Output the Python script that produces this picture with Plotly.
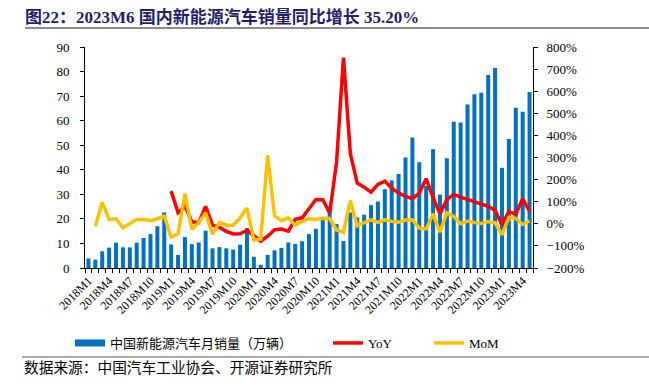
import plotly.graph_objects as go

categories = [
    "2018M1", "2018M2", "2018M3", "2018M4", "2018M5", "2018M6", "2018M7", "2018M8", "2018M9", "2018M10", "2018M11", "2018M12",
    "2019M1", "2019M2", "2019M3", "2019M4", "2019M5", "2019M6", "2019M7", "2019M8", "2019M9", "2019M10", "2019M11", "2019M12",
    "2020M1", "2020M2", "2020M3", "2020M4", "2020M5", "2020M6", "2020M7", "2020M8", "2020M9", "2020M10", "2020M11", "2020M12",
    "2021M1", "2021M2", "2021M3", "2021M4", "2021M5", "2021M6", "2021M7", "2021M8", "2021M9", "2021M10", "2021M11", "2021M12",
    "2022M1", "2022M2", "2022M3", "2022M4", "2022M5", "2022M6", "2022M7", "2022M8", "2022M9", "2022M10", "2022M11", "2022M12",
    "2023M1", "2023M2", "2023M3", "2023M4", "2023M5",
]

sales = [
    3.9, 3.4, 6.8, 8.3, 10.3, 8.4, 8.4, 10.3, 12.2, 13.8, 17.0, 22.6,
    9.6, 5.3, 12.6, 9.7, 10.4, 15.2, 8.0, 8.5, 8.0, 7.5, 9.5, 16.3,
    4.6, 1.3, 5.3, 7.2, 8.2, 10.4, 9.8, 10.9, 13.8, 16.0, 20.0, 24.8,
    17.9, 11.0, 22.6, 20.6, 21.7, 25.6, 27.1, 32.1, 35.7, 38.3, 45.0, 53.1,
    43.1, 33.4, 48.4, 29.9, 44.7, 59.6, 59.3, 66.6, 70.8, 71.4, 78.6, 81.4,
    40.8, 52.5, 65.3, 63.6, 71.7,
]

# YoY (%) from 2019M1
yoy_categories = categories[12:]
yoy = [
    148, 51, 80, 9, 5, 79, -6, -16, -34, -46, -45, -30,
    -53, -79, -56, -27, -24, -33, 20, 27, 68, 110, 109, 49,
    279, 752, 317, 184, 166, 143, 178, 193, 161, 139, 124, 114,
    139, 204, 118, 45, 109, 133, 121, 110, 101, 91, 79, 60,
    -5, 56, 43, 113, 57,
]

# MoM (%) from 2018M2
mom_categories = categories[1:]
mom = [
    -11, 96, 20, 23, -18, 0, 20, 20, 14, 23, 34,
    -60, -45, 136, -25, 6, 50, -47, 6, -6, -6, 27, 71,
    -73, -70, 310, 36, 14, 27, -6, 11, 23, 20, 25, 24,
    -28, -39, 105, -9, 5, 18, 6, 18, 11, 7, 17, 18,
    -19, -23, 45, -38, 49, 33, 0, 12, 6, 1, 10, 4,
    -50, 29, 24, -3, 13,
]

tick_labels = categories[::3]

BLUE = "#0070C0"
RED = "#FF0000"
YELLOW = "#FFC000"
FONT = "Liberation Serif, Times New Roman, Noto Sans CJK SC, serif"

fig = go.Figure()
fig.add_trace(go.Bar(
    x=categories, y=sales, marker=dict(color=BLUE, line=dict(width=0)),
    name="中国新能源汽车月销量（万辆）", showlegend=False, yaxis="y",
))
fig.add_trace(go.Scatter(
    x=yoy_categories, y=yoy, mode="lines", line=dict(color=RED, width=3.5),
    name="YoY", yaxis="y2", legend="legend2",
))
fig.add_trace(go.Scatter(
    x=mom_categories, y=mom, mode="lines", line=dict(color=YELLOW, width=3.5),
    name="MoM", yaxis="y2", legend="legend3",
))
# legend proxy for the bar series (wide swatch like the original)
fig.add_trace(go.Scatter(
    x=[None], y=[None], mode="lines", line=dict(color=BLUE, width=7),
    name="中国新能源汽车月销量（万辆）", yaxis="y", legend="legend",
))

legend_common = dict(orientation="h", yanchor="middle", xanchor="left",
                     bgcolor="rgba(0,0,0,0)", font=dict(family=FONT, size=13, color="#000"),
                     itemwidth=30, tracegroupgap=0)

fig.update_layout(
    width=649, height=387,
    margin=dict(l=85, r=116, t=47, b=119),
    paper_bgcolor="white", plot_bgcolor="white",
    font=dict(family=FONT, size=13, color="#000"),
    bargap=0.42,
    title=dict(
        text="图22：2023M6 国内新能源汽车销量同比增长 35.20%",
        x=25 / 649, xanchor="left", xref="container",
        y=1 - 17 / 387, yanchor="middle", yref="container",
        font=dict(family=FONT, size=17, color="#1F1F6B", weight="bold"),
    ),
    xaxis=dict(
        type="category", categoryorder="array", categoryarray=categories,
        tickmode="array", tickvals=categories,
        ticktext=[c if c in tick_labels else "" for c in categories],
        tickson="boundaries", ticks="outside", ticklen=4, tickcolor="#000",
        tickangle=-45, tickfont=dict(family=FONT, size=12),
        showline=True, linecolor="#000", linewidth=1,
        showgrid=False, zeroline=False,
    ),
    yaxis=dict(
        range=[0, 90], dtick=10, tick0=0,
        ticks="outside", ticklen=4, tickcolor="#000", ticklabelstandoff=8,
        showline=True, linecolor="#000", linewidth=1,
        showgrid=False, zeroline=False, tickfont=dict(family=FONT, size=13),
    ),
    yaxis2=dict(
        range=[-200, 800], dtick=100, tick0=0, ticksuffix="%",
        overlaying="y", side="right", anchor="x",
        ticks="outside", ticklen=4, tickcolor="#000", ticklabelstandoff=6,
        showline=True, linecolor="#000", linewidth=1,
        showgrid=False, zeroline=False, tickfont=dict(family=FONT, size=13),
    ),
    legend=dict(x=(70 - 85) / 448, y=(268 - 343) / 221, **legend_common),
    legend2=dict(x=(328 - 85) / 448, y=(268 - 343) / 221, **legend_common),
    legend3=dict(x=(429 - 85) / 448, y=(268 - 343) / 221, **legend_common),
    shapes=[
        dict(type="line", xref="paper", yref="paper",
             x0=(25 - 85) / 448, x1=(649 - 85) / 448,
             y0=(268 - 28) / 221, y1=(268 - 28) / 221,
             line=dict(color="#8C8C8C", width=2)),
        dict(type="line", xref="paper", yref="paper",
             x0=(22 - 85) / 448, x1=(649 - 85) / 448,
             y0=(268 - 357) / 221, y1=(268 - 357) / 221,
             line=dict(color="#8C8C8C", width=1.5)),
    ],
    annotations=[
        dict(text="数据来源：中国汽车工业协会、开源证券研究所",
             xref="paper", yref="paper",
             x=(22 - 85) / 448, y=(268 - 368) / 221,
             xanchor="left", yanchor="middle", showarrow=False,
             font=dict(family=FONT, size=14.7, color="#000")),
    ],
)

fig.write_html(
    "out.html",
    config={"displayModeBar": False},
    post_script="document.body.style.margin='0';document.body.style.overflow='hidden';",
)
